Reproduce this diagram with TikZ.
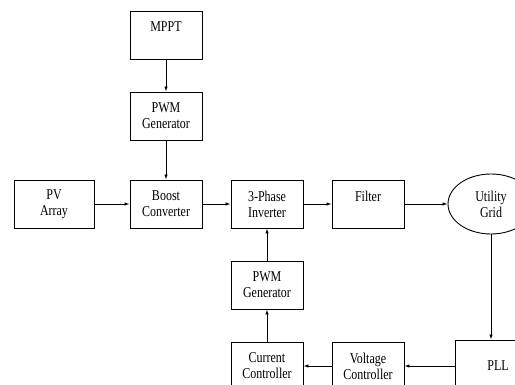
\documentclass[tikz,border=0pt]{standalone}
\usepackage{fontspec}
\setmainfont{Liberation Serif}[FakeStretch=0.8]
\usetikzlibrary{arrows.meta,shapes.geometric}
\begin{document}
\begin{tikzpicture}[x=1pt,y=-1pt,
  blk/.style={draw, line width=0.9pt, minimum width=72pt, minimum height=48pt, inner sep=0pt, align=center, font=\fontsize{15}{16}\selectfont},
  conn/.style={line width=0.9pt, -{Latex[length=5pt,width=3.5pt]}}]
\useasboundingbox (0,0) rectangle (515,385);
\clip (0,0) rectangle (515,385);
\node[blk] (mppt) at (166,35) {MPPT\\\phantom{Gen}};
\node[blk] (pwma) at (166,116) {PWM\\Generator};
\node[blk] (boost) at (166,204) {Boost\\Converter};
\node[blk, minimum width=80pt] (pv) at (54,204) {PV\\Array};
\node[blk] (inv) at (267,204) {3-Phase\\Inverter};
\node[blk] (filt) at (368,204) {Filter\\\phantom{Inverter}};
\node[blk, ellipse, minimum width=86pt, minimum height=60pt] (grid) at (491,204) {Utility\\Grid};
\node[blk] (pwmb) at (267,285) {PWM\\Generator};
\node[blk] (cur) at (267,366) {Current\\Controller};
\node[blk] (volt) at (368,366) {Voltage\\Controller};
\node[blk, minimum width=86pt, minimum height=52pt] (pll) at (498,366) {PLL};
\draw[conn] (mppt.south) -- (pwma.north);
\draw[conn] (pwma.south) -- (boost.north);
\draw[conn] (pv.east) -- (boost.west);
\draw[conn] (boost.east) -- (inv.west);
\draw[conn] (inv.east) -- (filt.west);
\draw[conn] (filt.east) -- (grid.west);
\draw[conn] (grid.south) -- (grid.south |- pll.north);
\draw[conn] (pll.west) -- (volt.east);
\draw[conn] (volt.west) -- (cur.east);
\draw[conn] (cur.north) -- (pwmb.south);
\draw[conn] (pwmb.north) -- (inv.south);
\end{tikzpicture}
\end{document}
